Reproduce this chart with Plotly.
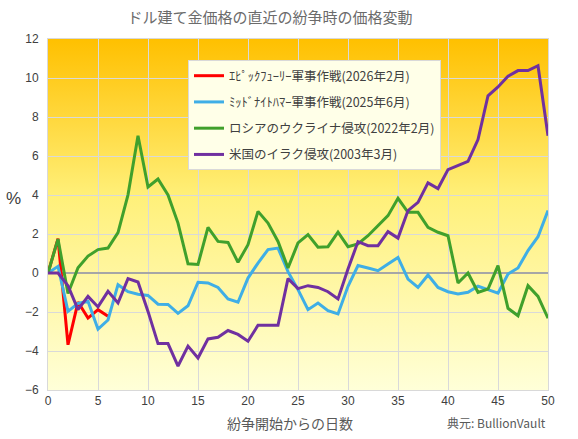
import base64
import plotly.graph_objects as go

# --- データ (チャートから読み取った値, %) ---
days = list(range(51))

epic_fury = [0, 1.76, -3.68, -1.49, -2.31, -1.88, -2.22]

midnight_hammer = [
    0, 0.34, -1.97, -1.56, -1.45, -2.88, -2.41, -0.6, -0.96, -1.09,
    -1.15, -1.6, -1.61, -2.07, -1.68, -0.48, -0.51, -0.74, -1.33, -1.5,
    -0.26, 0.51, 1.2, 1.28, 0.07, -0.85, -1.88, -1.54, -1.93, -2.1,
    -0.68, 0.38, 0.26, 0.12, 0.46, 0.8, -0.31, -0.74, -0.1, -0.74,
    -0.96, -1.08, -0.99, -0.68, -0.85, -1.03, -0.05, 0.26, 1.15, 1.86,
    3.2,
]

ukraine = [
    0, 1.74, -1.05, 0.27, 0.87, 1.2, 1.28, 2.07, 4.01, 7.04,
    4.41, 4.82, 4.0, 2.56, 0.47, 0.44, 2.34, 1.62, 1.57, 0.55,
    1.45, 3.16, 2.56, 1.62, 0.26, 1.54, 1.97, 1.32, 1.35, 2.09,
    1.35, 1.49, 1.91, 2.43, 2.94, 3.83, 3.11, 3.11, 2.34, 2.09,
    1.91, -0.51, 0.0, -0.99, -0.82, 0.38, -1.81, -2.19, -0.65, -1.2,
    -2.32,
]

iraq = [
    0, 0, -0.65, -1.88, -1.2, -1.74, -0.94, -1.54, -0.29, -0.46,
    -1.97, -3.62, -3.62, -4.77, -3.75, -4.36, -3.38, -3.3, -2.95, -3.15,
    -3.5, -2.68, -2.68, -2.68, -0.29, -0.8, -0.65, -0.74, -0.96, -1.33,
    0.2, 1.61, 1.4, 1.4, 2.12, 1.79, 3.2, 3.62, 4.62, 4.33,
    5.3, 5.5, 5.73, 6.84, 9.09, 9.54, 10.09, 10.38, 10.38, 10.63,
    7.04,
]

series = [
    ("ｴﾋﾟｯｸﾌｭｰﾘｰ軍事作戦(2026年2月)", epic_fury, "#FF0000"),
    ("ﾐｯﾄﾞﾅｲﾄﾊﾏｰ軍事作戦(2025年6月)", midnight_hammer, "#3FAEE6"),
    ("ロシアのウクライナ侵攻(2022年2月)", ukraine, "#40A02C"),
    ("米国のイラク侵攻(2003年3月)", iraq, "#7030A0"),
]

FONT = "Liberation Sans, Arial, Noto Sans CJK JP"
JP_FONT = "Noto Sans CJK JP, Liberation Sans"

# 背景のグラデーション (SVGをdata URIで埋め込む)
svg = (
    '<svg xmlns="http://www.w3.org/2000/svg" width="100" height="100" preserveAspectRatio="none">'
    '<defs><linearGradient id="g" x1="0" y1="0" x2="0" y2="1">'
    '<stop offset="0" stop-color="#FFC000"/>'
    '<stop offset="0.45" stop-color="#FFF07A"/>'
    '<stop offset="1" stop-color="#FFFFD8"/>'
    '</linearGradient></defs>'
    '<rect width="100" height="100" fill="url(#g)"/></svg>'
)
bg_src = "data:image/svg+xml;base64," + base64.b64encode(svg.encode()).decode()

fig = go.Figure()
for i, (name, vals, color) in enumerate(series):
    fig.add_trace(go.Scatter(
        x=days[:len(vals)], y=vals, name=name, mode="lines",
        line=dict(color=color, width=3),
        legendgroup=f"g{i}",
    ))

fig.update_layout(
    width=578, height=439,
    margin=dict(l=48, r=30, t=39, b=49),
    paper_bgcolor="white",
    plot_bgcolor="rgba(0,0,0,0)",
    font=dict(family=FONT, size=12, color="#404040"),
    showlegend=True,
    legend=dict(
        x=0.28, y=0.94, xanchor="left", yanchor="top",
        bgcolor="#FFFFE8", bordercolor="#D9D9D9", borderwidth=1,
        font=dict(family=JP_FONT, size=12.5, color="#404040"),
        tracegroupgap=7, traceorder="grouped",
    ),
    images=[dict(
        source=bg_src, xref="paper", yref="paper", x=0, y=1,
        sizex=1, sizey=1, sizing="stretch", layer="below",
        xanchor="left", yanchor="top",
    )],
    title=dict(
        text="ドル建て金価格の直近の紛争時の価格変動",
        font=dict(family=JP_FONT, size=15, color="#6B6B6B"),
        x=0.467, xref="container", xanchor="center",
        y=0.959, yref="container", yanchor="middle",
    ),
)

fig.update_xaxes(
    range=[0, 50], dtick=5, tick0=0,
    showgrid=True, gridcolor="#D9D9D9", gridwidth=1,
    showline=True, linecolor="#D9D9D9", mirror=True,
    zeroline=False, ticks="",
    tickfont=dict(size=12, color="#404040"),
)
fig.update_yaxes(
    range=[-6, 12], dtick=2, tick0=0,
    showgrid=True, gridcolor="#D9D9D9", gridwidth=1,
    showline=True, linecolor="#D9D9D9", mirror=True,
    zeroline=True, zerolinecolor="#A6A6A6", zerolinewidth=2,
    ticks="", ticklabelstandoff=6,
    tickfont=dict(size=12, color="#404040"),
)

fig.add_annotation(
    text="紛争開始からの日数", xref="paper", yref="paper",
    x=0.484, y=-0.094, xanchor="center", yanchor="middle",
    showarrow=False, font=dict(family=JP_FONT, size=14, color="#595959"),
)
fig.add_annotation(
    text="%", xref="paper", yref="paper",
    x=-0.07, y=0.547, xanchor="center", yanchor="middle",
    showarrow=False, font=dict(family=FONT, size=17, color="#404040"),
)
fig.add_annotation(
    text="典元: BullionVault", xref="paper", yref="paper",
    x=1.0, y=-0.094, xanchor="right", yanchor="middle",
    showarrow=False, font=dict(family=JP_FONT, size=12, color="#595959"),
)

# ページ余白を消して図を左上に合わせる
fig.write_html(
    "out.html",
    config={"displayModeBar": False},
    post_script="document.body.style.margin='0';",
)
